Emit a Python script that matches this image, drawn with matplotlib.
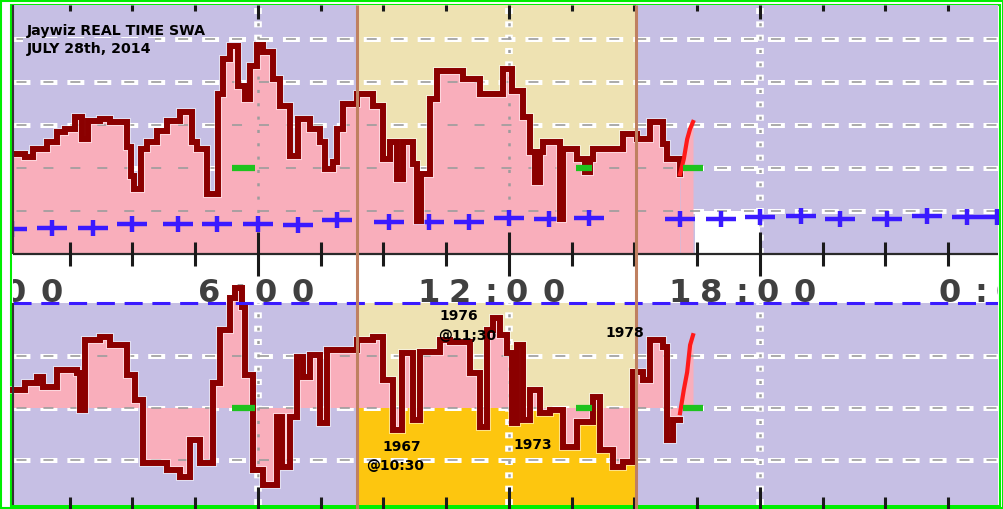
import numpy as np
import matplotlib.pyplot as plt
import matplotlib.patheffects as pe
from matplotlib.patches import Rectangle

plt.rcParams['lines.scale_dashes'] = False

W, H = 1004, 509

# ---- data (hours of the day, values in grid units) ----
top_hours = [0.14, 0.43, 0.62, 0.96, 1.20, 1.39, 1.63, 1.79, 1.94, 2.22, 2.46, 2.87, 2.96, 3.04, 3.20,
             3.35, 3.59, 3.83, 4.14, 4.42, 4.54, 4.78, 5.04, 5.16, 5.33, 5.52, 5.69, 5.81, 5.98, 6.12,
             6.36, 6.53, 6.77, 6.96, 7.24, 7.48, 7.60, 7.79, 7.89, 8.03, 8.37, 8.75, 8.99, 9.16, 9.32,
             9.47, 9.71, 9.80, 9.90, 10.11, 10.28, 10.90, 11.31, 11.86, 12.07, 12.34, 12.50, 12.62, 12.74,
             12.81, 13.22, 13.29, 13.63, 13.82, 13.94, 14.01, 14.73, 15.06, 15.37, 15.68, 15.78, 16.09]
top_vals = [2.33, 2.26, 2.44, 2.60, 2.84, 2.91, 3.19, 2.67, 3.09, 3.14, 3.07, 2.49, 1.81, 1.51, 2.44,
            2.60, 2.86, 3.09, 3.30, 2.60, 2.44, 1.40, 3.72, 4.53, 4.84, 3.91, 3.60, 4.37, 4.86, 4.70,
            4.07, 3.44, 2.28, 3.14, 2.91, 2.60, 1.98, 2.14, 2.91, 3.49, 3.72, 3.44, 2.21, 2.60, 1.74,
            2.60, 2.09, 0.77, 1.86, 3.60, 4.26, 4.07, 3.72, 4.30, 3.79, 3.19, 2.37, 1.67, 2.37,
            2.60, 0.81, 2.44, 2.21, 1.91, 2.21, 2.44, 2.79, 2.67, 3.07, 2.56, 2.21, 1.86]
top_live_hours = [16.09, 16.18, 16.26, 16.33, 16.40]
top_live_vals = [1.86, 2.21, 2.67, 2.91, 3.07]

bot_hours = [0.14, 0.43, 0.72, 0.86, 1.20, 1.67, 1.75, 1.86, 2.22, 2.46, 2.87, 3.06, 3.25, 3.83, 4.14,
             4.38, 4.61, 4.92, 5.09, 5.33, 5.45, 5.62, 5.69, 5.88, 6.12, 6.45, 6.57, 6.77, 6.93, 7.08,
             7.24, 7.48, 7.65, 7.96, 8.37, 8.75, 8.99, 9.23, 9.44, 9.71, 9.87, 10.35, 10.59, 11.07, 11.31,
             11.48, 11.62, 11.79, 11.95, 12.07, 12.19, 12.34, 12.50, 12.74, 12.98, 13.29, 13.63, 14.01,
             14.18, 14.49, 14.73, 14.97, 15.20, 15.37, 15.68, 15.78, 15.92, 16.09]
bot_vals = [0.35, 0.48, 0.60, 0.40, 0.73, 0.67, -0.04, 1.31, 1.37, 1.21, 0.63, 0.15, -1.06, -1.19, -1.33,
            -0.62, -1.06, 0.48, 1.50, 2.12, 2.31, 1.94, 0.63, -1.19, -1.48, -0.17, -1.13, -0.17, 0.98, 0.60,
            1.02, -0.29, 1.12, 1.12, 1.31, 1.37, 0.54, -0.42, 1.06, -0.23, 1.08, 1.31, 1.27, 0.67, -0.37,
            1.50, 1.73, 1.40, 1.06, -0.29, 1.21, -0.23, 0.35, -0.10, -0.04, -0.75, -0.27, 0.21,
            -0.81, -1.13, -1.04, 0.69, 0.54, 1.31, 1.17, -0.62, -0.23, -0.23]
bot_live_hours = [16.09, 16.18, 16.26, 16.33, 16.40]
bot_live_vals = [-0.10, 0.35, 0.69, 1.21, 1.40]

plus_hours = [0.12, 1.08, 2.06, 2.99, 4.09, 5.02, 6.0, 6.96, 7.89, 9.13, 10.09, 11.04, 12.0, 12.96,
              13.91, 16.09, 17.07, 18.0, 18.98, 19.91, 21.04, 21.99, 22.95, 23.67]
plus_vals = [0.58, 0.60, 0.60, 0.70, 0.70, 0.70, 0.70, 0.67, 0.79, 0.74, 0.74, 0.74, 0.84, 0.81,
             0.84, 0.81, 0.81, 0.86, 0.88, 0.81, 0.81, 0.88, 0.86, 0.86]

green_marks = [(5.38, 5.93), (13.60, 13.98), (16.16, 16.64)]
top_ref, bot_ref = 2.0, 0.0
highlight = (8.37, 15.04)
blank_span, blank_top = (16.45, 18.0), 1.0

top_grid = [1, 2, 3, 4, 5]
bot_grid = [-1, 0, 1]
major_hours = [6, 12, 18]
minor_hours = [1.5, 3, 4.5, 7.5, 9, 10.5, 13.5, 15, 16.5, 19.5, 21, 22.5]
time_labels = ['0:00', '6:00', '12:00', '18:00', '0:00']
time_label_hours = [0, 6, 12, 18, 23.7]

title_lines = ['Jaywiz REAL TIME SWA', 'JULY 28th, 2014']
note_lines = ['1976', '@11;30', '1978', '1967', '@10:30', '1973']

# ---- colours ----
lavender = '#c6bfe4'
pink = '#f9aebb'
beige = '#eee2b2'
yellow = '#fdc60f'
dark = '#8b0000'
live = '#ff1a1a'
green = '#1ec31e'
brown = '#bf8060'
blue = '#3a1aff'

PXH = 41.83          # pixels per hour
H0 = 7               # pixel column of 0:00
xlim = ((13 - H0) / PXH, (998 - H0) / PXH)

fig = plt.figure(figsize=(W / 100, H / 100), dpi=100)
fig.patch.set_facecolor('white')

ax_back = fig.add_axes([13 / W, 0, 985 / W, 1], zorder=0)
ax_top = fig.add_axes([13 / W, (H - 254) / H, 985 / W, 249 / H], zorder=1)
ax_bot = fig.add_axes([13 / W, (H - 505) / H, 985 / W, 202 / H], zorder=2)
ax_all = fig.add_axes([13 / W, 0, 985 / W, 1], zorder=3)

for a in (ax_back, ax_all):
    a.set_xlim(*xlim)
    a.set_ylim(H, 0)
    a.axis('off')
    a.patch.set_alpha(0)

ax_top.set_ylim(0, 249 / 43)
ax_bot.set_ylim(-97 / 52, 105 / 52)

white_h = dict(color='white', lw=3.6, ls=(0, (12.2, 7.2)), zorder=1)
gray_h = dict(color='#9c9c9c', lw=1.2, ls=(16.9, (7.2, 12.2)), zorder=3)
white_v = dict(color='white', lw=5.5, ls=(0, (4.3, 5.3)), zorder=1)
gray_v = dict(color='#9c9c9c', lw=1.8, ls=(8.5, (2.2, 7.4)), zorder=3)
halo = [pe.Stroke(linewidth=5.8, foreground='white', alpha=0.5), pe.Normal()]

for ax, grid in ((ax_top, top_grid), (ax_bot, bot_grid)):
    ax.set_xlim(*xlim)
    ax.set_facecolor(lavender)
    for s in ax.spines.values():
        s.set_visible(False)
    ax.set_xticks([])
    ax.set_yticks([])
    ax.axvspan(*highlight, color=beige, lw=0, zorder=0.5)
    for v in grid:
        ax.axhline(v, **white_h)
        ax.axhline(v, **gray_h)
    for h in major_hours:
        ax.axvline(h, **white_v)
        ax.axvline(h, **gray_v)

# top panel
ax_top.fill_between(top_hours, 0, top_vals, step='post', color=pink, lw=0, zorder=2)
ax_top.fill_between(top_live_hours, 0, top_live_vals, color=pink, lw=0, zorder=2)
ax_top.add_patch(Rectangle((blank_span[0], 0), blank_span[1] - blank_span[0], blank_top,
                           color='white', lw=0, zorder=2))
ax_top.plot(plus_hours, plus_vals, ls='none', marker='_', ms=21.6, mew=3.2, color=blue, zorder=4)
ax_top.plot(plus_hours, plus_vals, ls='none', marker='|', ms=11.5, mew=3.2, color=blue, zorder=4)
ax_top.plot(top_hours, top_vals, drawstyle='steps-post', color=dark, lw=4.3,
            solid_joinstyle='miter', zorder=5, path_effects=halo)
ax_top.plot(top_live_hours, top_live_vals, color=live, lw=3, zorder=5)
for a, b in green_marks:
    ax_top.hlines(top_ref, a, b, color=green, lw=4.5, zorder=6)

# bottom panel
ymin = ax_bot.get_ylim()[0]
gold = ax_bot.fill_between(bot_hours, ymin, np.minimum(bot_vals, 0), step='post',
                           color=yellow, lw=0, zorder=0.8)
gold.set_clip_path(Rectangle((highlight[0], ymin), highlight[1] - highlight[0], 10,
                             transform=ax_bot.transData))
ax_bot.fill_between(bot_hours, 0, bot_vals, step='post', color=pink, lw=0, zorder=2, clip_on=False)
ax_bot.fill_between(bot_live_hours, 0, bot_live_vals, color=pink, lw=0, zorder=2)
ax_bot.plot(bot_hours, bot_vals, drawstyle='steps-post', color=dark, lw=4.3,
            solid_joinstyle='miter', zorder=5, clip_on=False, path_effects=halo)
ax_bot.plot(bot_live_hours, bot_live_vals, color=live, lw=3, zorder=5)
for a, b in green_marks:
    ax_bot.hlines(bot_ref, a, b, color=green, lw=4.5, zorder=6)

# overlay: axis line, ticks, highlight borders, blue dashed separator
ax_all.hlines(254, *xlim, color='#2a2a2a', lw=1.6)
ax_all.hlines(303, *xlim, color=blue, lw=2.2, ls=(0, (13, 7)))
ax_all.vlines(xlim[0], 5, 254, color='#333333', lw=1.5, clip_on=False)
ax_all.vlines(xlim[0], 303, 505, color='#333333', lw=1.5, clip_on=False)
for rows in ((242, 266), (5, 11), (497, 509)):
    ax_all.vlines(minor_hours, *rows, color='#1a1a1a', lw=2.2)
for rows in ((232, 276), (5, 19), (487, 509)):
    ax_all.vlines(major_hours, *rows, color='#1a1a1a', lw=2.2)
ax_all.vlines(highlight, 5, 509, color=brown, lw=2.2)

# big time labels in the white band (spread out like the stretched original font)
for lab, h in zip(time_labels, time_label_hours):
    k = lab.index(':')
    for i, ch in enumerate(lab):
        if i < k:
            off = -18 - 31 * (k - i)
        elif i == k:
            off = -18
        else:
            off = 8 + 37 * (i - k - 1)
        t = ax_back.text(h + off / PXH, 302, ch, ha='center', va='baseline', fontsize=23,
                         fontweight='bold', color='#404040')
        t.set_clip_box(ax_back.bbox)
        t.set_clip_on(True)

# title
fig.text(27 / W, 1 - 35 / H, title_lines[0], fontsize=10.2, fontweight='bold', color='black',
         ha='left', va='baseline', zorder=10)
fig.text(27 / W, 1 - 53 / H, title_lines[1], fontsize=10.2, fontweight='bold', color='black',
         ha='left', va='baseline', zorder=10,
         bbox=dict(facecolor=lavender, edgecolor='none', pad=2.5))

# year notes
note_pos = [(439, 320), (438, 340), (605, 337), (382, 451), (366, 470), (513, 449)]
for txt, (x, y) in zip(note_lines, note_pos):
    fig.text(x / W, 1 - y / H, txt, fontsize=10, fontweight='bold', color='black',
             ha='left', va='baseline', zorder=10)

# double green frame
for (x0, y0, x1, y1) in ((1, 1, 1003, 508), (11, 4.5, 1000, 506)):
    fig.add_artist(Rectangle((x0 / W, 1 - y1 / H), (x1 - x0) / W, (y1 - y0) / H,
                             transform=fig.transFigure, fill=False, ec='#00ee00', lw=1.5))

fig.savefig('out.png', dpi=100)
